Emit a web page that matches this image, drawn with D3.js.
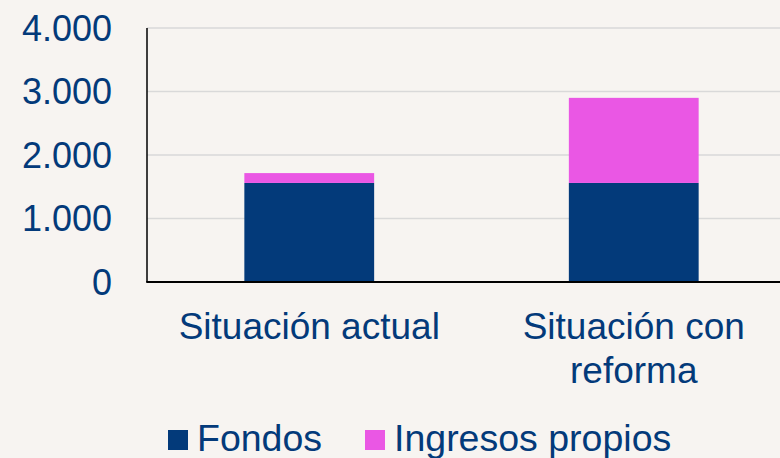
<!doctype html>
<html lang="es">
<head>
    <meta charset="utf-8" />
    <title>Fondos e ingresos propios</title>
    <style>
        html, body { margin: 0; padding: 0; background: #f7f4f1; }
        svg { display: block; font-family: "Liberation Sans", Arial, sans-serif; }
    </style>
</head>
<body>
    <svg id="chart"></svg>

    <script src="https://cdn.jsdelivr.net/npm/d3@7/dist/d3.min.js"></script>
    <script>
        // datos
        const categories = [["Situación actual"], ["Situación con", "reforma"]];
        const fondos = [1560, 1560];
        const ingresosPropios = [155, 1340];
        const seriesNames = ["Fondos", "Ingresos propios"];
        const yTicks = [0, 1000, 2000, 3000, 4000];

        const width = 780, height = 458;
        const colors = ["#033a7a", "#ea57e4"];
        const textColor = "#033a7a";

        const svg = d3.select("#chart")
            .attr("width", width)
            .attr("height", height);

        const x0 = 147, yTop = 28, yBase = 282;

        const x = d3.scaleBand()
            .domain(d3.range(categories.length))
            .range([x0, 796])
            .paddingInner(0.6)
            .paddingOuter(0.3);

        const y = d3.scaleLinear()
            .domain([0, 4000])
            .range([yBase, yTop]);

        const fmt = v => d3.format(",")(v).replace(/,/g, ".");

        // gridlines
        svg.append("g")
            .selectAll("line")
            .data(yTicks.filter(d => d > 0))
            .join("line")
            .attr("x1", x0).attr("x2", width)
            .attr("y1", d => y(d)).attr("y2", d => y(d))
            .attr("stroke", "#d9d9d9")
            .attr("stroke-width", 1.5);

        // y labels
        svg.append("g")
            .selectAll("text")
            .data(yTicks)
            .join("text")
            .attr("x", 112)
            .attr("y", d => y(d))
            .attr("dy", "0.36em")
            .attr("text-anchor", "end")
            .attr("font-size", 36)
            .attr("fill", textColor)
            .text(fmt);

        // stacked bars
        const rows = categories.map((c, i) => ({ i, Fondos: fondos[i], "Ingresos propios": ingresosPropios[i] }));
        const stack = d3.stack().keys(seriesNames)(rows);

        svg.append("g")
            .selectAll("g")
            .data(stack)
            .join("g")
            .attr("fill", (d, k) => colors[k])
            .selectAll("rect")
            .data(d => d)
            .join("rect")
            .attr("x", d => x(d.data.i))
            .attr("width", x.bandwidth())
            .attr("y", d => y(d[1]))
            .attr("height", d => y(d[0]) - y(d[1]));

        // axis lines
        svg.append("line")
            .attr("x1", x0).attr("x2", x0)
            .attr("y1", yTop).attr("y2", yBase)
            .attr("stroke", "#000").attr("stroke-width", 1.5);
        svg.append("line")
            .attr("x1", x0 - 0.75).attr("x2", width)
            .attr("y1", yBase).attr("y2", yBase)
            .attr("stroke", "#000").attr("stroke-width", 2);

        // category labels
        svg.append("g")
            .selectAll("text")
            .data(categories)
            .join("text")
            .attr("x", (d, i) => x(i) + x.bandwidth() / 2)
            .attr("y", 339)
            .attr("text-anchor", "middle")
            .attr("font-size", 37)
            .attr("fill", textColor)
            .selectAll("tspan")
            .data(d => d)
            .join("tspan")
            .attr("x", function() { return this.parentNode.getAttribute("x"); })
            .attr("dy", (d, j) => j === 0 ? 0 : 44)
            .text(d => d);

        // legend
        const legendX = [168, 365];
        const legend = svg.append("g")
            .selectAll("g")
            .data(seriesNames)
            .join("g")
            .attr("transform", (d, k) => `translate(${legendX[k]}, 430)`);
        legend.append("rect")
            .attr("width", 20).attr("height", 20)
            .attr("fill", (d, k) => colors[k]);
        legend.append("text")
            .attr("x", 29)
            .attr("y", 21)
            .attr("font-size", 37.5)
            .attr("fill", textColor)
            .text(d => d);
    </script>
</body>
</html>
